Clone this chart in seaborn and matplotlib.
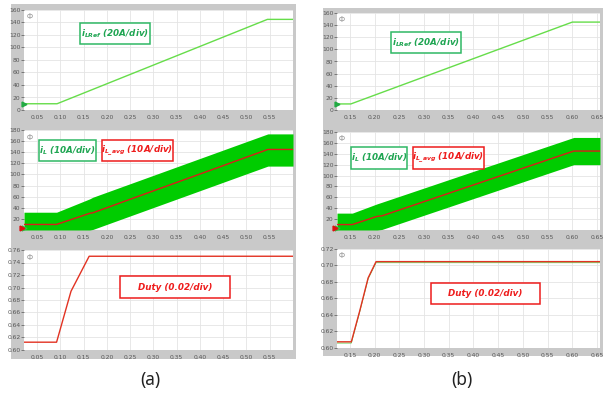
import matplotlib
matplotlib.use("Agg")
import matplotlib.pyplot as plt
from matplotlib.patches import Rectangle
import numpy as np
import pandas as pd
import seaborn as sns

sns.set_theme(style="white")
plt.rcParams['font.family'] = ['DejaVu Sans']
plt.rcParams['mathtext.fontset'] = 'dejavusans'

# ---------------- data ----------------
# (a) left column
a_ref_t = [0.022, 0.093, 0.545, 0.600]
a_ref_v = [10, 10, 145, 145]

a_il_t = [0.022, 0.092, 0.163, 0.170, 0.546, 0.600]
a_il_avg = [10, 10, 30, 31, 145, 145]
a_il_hi = [32, 32, 56, 59, 173, 173]
a_il_lo = [0, 0, 0, 1, 115, 115]

a_duty_t = [0.022, 0.092, 0.123, 0.162, 0.600]
a_duty_v = [0.6125, 0.6125, 0.694, 0.750, 0.750]

# (b) right column
b_ref_t = [0.124, 0.152, 0.600, 0.656]
b_ref_v = [10, 10, 145, 145]

b_il_t = [0.124, 0.155, 0.205, 0.215, 0.603, 0.656]
b_il_avg = [10, 10, 25, 26, 145, 145]
b_il_hi = [31, 31, 48, 51, 170, 170]
b_il_lo = [0, 0, 0, 1, 120, 120]

b_duty_t = [0.124, 0.153, 0.170, 0.187, 0.203, 0.656]
b_duty_v = [0.6075, 0.6075, 0.645, 0.685, 0.7047, 0.7047]
b_duty_ref = [0.6060, 0.6060, 0.644, 0.684, 0.7034, 0.7034]

a_xticks = [0.05, 0.10, 0.15, 0.20, 0.25, 0.30, 0.35, 0.40, 0.45, 0.50, 0.55]
b_xticks = [0.15, 0.20, 0.25, 0.30, 0.35, 0.40, 0.45, 0.50, 0.55, 0.60, 0.65]
ref_yticks = [0, 20, 40, 60, 80, 100, 120, 140, 160]
il_yticks = [0, 20, 40, 60, 80, 100, 120, 140, 160, 180]
a_duty_yticks = [0.60, 0.62, 0.64, 0.66, 0.68, 0.70, 0.72, 0.74, 0.76]
b_duty_yticks = [0.60, 0.62, 0.64, 0.66, 0.68, 0.70, 0.72]

# ---------------- layout ----------------
W, H = 612, 395
fig = plt.figure(figsize=(W / 100, H / 100), dpi=100)
fig.patch.set_facecolor("white")

def frac(x0, y0, x1, y1):
    return [x0 / W, 1 - y1 / H, (x1 - x0) / W, (y1 - y0) / H]

GRAY = "#c9c9c9"
fig.patches.append(Rectangle((11 / W, 1 - 359 / H), (296 - 11) / W, (359 - 4) / H,
                             transform=fig.transFigure, facecolor=GRAY, edgecolor="none", zorder=-5))
fig.patches.append(Rectangle((323 / W, 1 - 356 / H), (603 - 323) / W, (356 - 8) / H,
                             transform=fig.transFigure, facecolor=GRAY, edgecolor="none", zorder=-5))

REF_GREEN = "#66dd4a"
BAND_GREEN = "#00cc00"
AVG_RED = "#dd1a1a"
DUTY_RED = "#e23222"
TXT_GREEN = "#1fa552"
BOX_GREEN = "#2fb865"
TXT_RED = "#ee1c1c"


def style_ax(ax, xlim, xticks, ylim, yticks, yfmt):
    ax.set_xlim(*xlim)
    ax.set_ylim(*ylim)
    ax.set_xticks(xticks)
    ax.set_xticklabels([f"{v:.2f}" for v in xticks])
    ax.set_yticks(yticks)
    ax.set_yticklabels([yfmt(v) for v in yticks])
    ax.set_facecolor("white")
    ax.grid(True, color="#e4e4e4", linewidth=0.6)
    for s in ax.spines.values():
        s.set_visible(False)
    ax.tick_params(axis="y", length=2, width=0.5, color="#555555", labelsize=4.3,
                   labelcolor="#555555", pad=0.5, left=True)
    ax.tick_params(axis="x", length=0, labelsize=4.3, labelcolor="#555555", pad=3.5)
    ax.set_xlabel("")
    ax.set_ylabel("")
    ax.text(0.008, 0.965, "ф", transform=ax.transAxes, fontsize=5, color="#888888",
            ha="left", va="top")


def box(ax, x0, y0, x1, y1, text, tcolor, ecolor):
    ax.add_patch(Rectangle((x0, y0), x1 - x0, y1 - y0, transform=ax.transAxes,
                           facecolor="white", edgecolor=ecolor, linewidth=1.1, zorder=5))
    ax.text((x0 + x1) / 2, (y0 + y1) / 2, text, transform=ax.transAxes, ha="center",
            va="center", fontsize=6.3, fontstyle="italic", fontweight="bold",
            color=tcolor, zorder=6)


def ref_panel(rect, t, v, xlim, xticks, bx):
    ax = fig.add_axes(rect)
    df = pd.DataFrame({"t": t, "v": v})
    sns.lineplot(data=df, x="t", y="v", ax=ax, color=REF_GREEN, linewidth=1.0, sort=False)
    style_ax(ax, xlim, xticks, (0, 160), ref_yticks, lambda y: f"{y:d}")
    ax.plot([xlim[0]], [v[0]], marker=">", color="#22aa44", markersize=3.5, clip_on=False)
    box(ax, *bx, r"$\mathbfit{i}_{\mathbfit{LRef}}$ (20A/div)", TXT_GREEN, BOX_GREEN)
    return ax


def il_panel(rect, t, avg, hi, lo, xlim, xticks, b1, b2):
    ax = fig.add_axes(rect)
    ax.fill_between(t, lo, hi, color=BAND_GREEN, linewidth=0, zorder=2)
    df = pd.DataFrame({"t": t, "v": avg})
    sns.lineplot(data=df, x="t", y="v", ax=ax, color=AVG_RED, linewidth=1.0, sort=False, zorder=3)
    style_ax(ax, xlim, xticks, (0, 180), il_yticks, lambda y: f"{y:d}" if y > 0 else "")
    ax.plot([xlim[0]], [3], marker=">", color="#33bb44", markersize=3.5, clip_on=False, zorder=4)
    ax.plot([xlim[0] - 0.004], [3], marker=">", color="#dd1111", markersize=3.5, clip_on=False, zorder=4)
    box(ax, *b1, r"$\mathbfit{i}_{\mathbfit{L}}$ (10A/div)", TXT_GREEN, BOX_GREEN)
    box(ax, *b2, r"$\mathbfit{i}_{\mathbfit{L\_avg}}$ (10A/div)", TXT_RED, TXT_RED)
    return ax


def duty_panel(rect, t, v, xlim, xticks, ylim, yticks, bx, ref=None):
    ax = fig.add_axes(rect)
    if ref is not None:
        dfr = pd.DataFrame({"t": t, "v": ref})
        sns.lineplot(data=dfr, x="t", y="v", ax=ax, color="#55cc44", linewidth=0.6, sort=False)
    df = pd.DataFrame({"t": t, "v": v})
    sns.lineplot(data=df, x="t", y="v", ax=ax, color=DUTY_RED, linewidth=1.0, sort=False)
    style_ax(ax, xlim, xticks, ylim, yticks, lambda y: f"{y:.2f}")
    box(ax, *bx, "Duty (0.02/div)", TXT_RED, TXT_RED)
    return ax


# (a)
ref_panel(frac(24, 10, 293, 110), a_ref_t, a_ref_v, (0.022, 0.600), a_xticks,
          (0.208, 0.66, 0.468, 0.87))
il_panel(frac(24, 130, 293, 230), a_il_t, a_il_avg, a_il_hi, a_il_lo, (0.022, 0.600), a_xticks,
         (0.056, 0.69, 0.268, 0.90), (0.290, 0.69, 0.554, 0.90))
duty_panel(frac(24, 250, 293, 350), a_duty_t, a_duty_v, (0.022, 0.600), a_xticks,
           (0.60, 0.76), a_duty_yticks, (0.357, 0.52, 0.766, 0.74))

# (b)
ref_panel(frac(337, 13, 600, 110), b_ref_t, b_ref_v, (0.124, 0.656), b_xticks,
          (0.205, 0.588, 0.471, 0.804))
il_panel(frac(337, 132, 600, 230), b_il_t, b_il_avg, b_il_hi, b_il_lo, (0.124, 0.656), b_xticks,
         (0.053, 0.622, 0.266, 0.847), (0.289, 0.622, 0.559, 0.847))
duty_panel(frac(337, 249, 600, 348), b_duty_t, b_duty_v, (0.124, 0.656), b_xticks,
           (0.60, 0.72), b_duty_yticks, (0.357, 0.444, 0.772, 0.657), ref=b_duty_ref)

fig.text(150 / W, 1 - 380 / H, "(a)", ha="center", va="center", fontsize=12.5,
         family=["Noto Sans"], color="#222222", fontweight="light")
fig.text(462 / W, 1 - 380 / H, "(b)", ha="center", va="center", fontsize=12.5,
         family=["Noto Sans"], color="#222222", fontweight="light")

fig.savefig("out.png", dpi=100, facecolor="white")
